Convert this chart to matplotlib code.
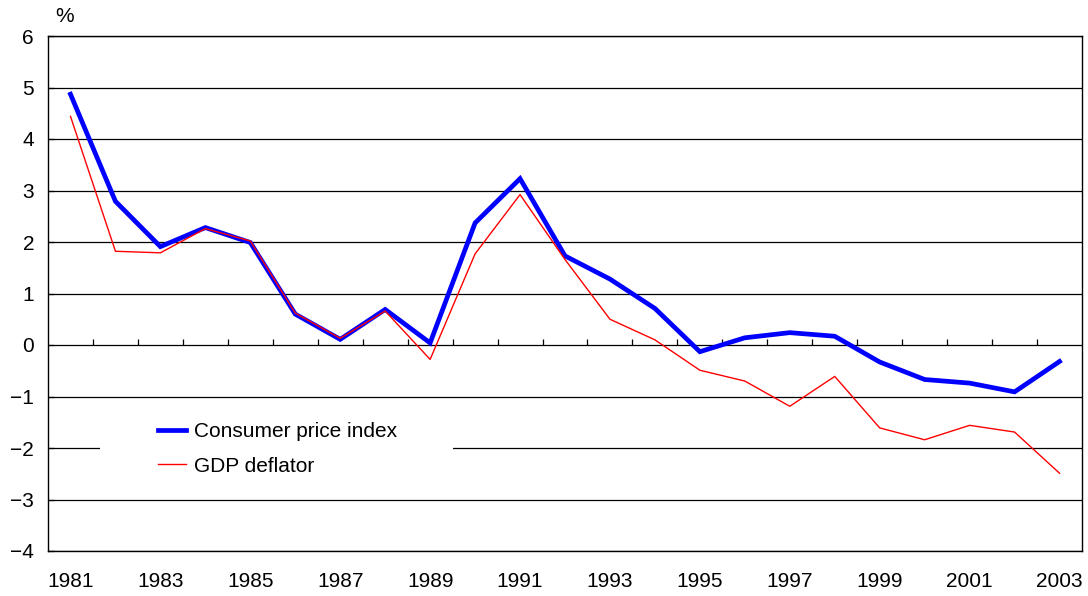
import matplotlib
matplotlib.use("Agg")
import matplotlib.pyplot as plt
from matplotlib.patches import Rectangle
import numpy as np

plt.rcParams["font.family"] = ["Liberation Sans", "DejaVu Sans"]

years = list(range(1981, 2004))
cpi = [4.87, 2.79, 1.91, 2.28, 1.99, 0.60, 0.11, 0.69, 0.04, 2.37, 3.23,
       1.73, 1.28, 0.71, -0.13, 0.14, 0.24, 0.17, -0.33, -0.67, -0.74, -0.91, -0.32]
gdp_deflator = [4.44, 1.82, 1.79, 2.26, 2.02, 0.62, 0.13, 0.66, -0.28, 1.77, 2.92,
                1.66, 0.50, 0.10, -0.49, -0.70, -1.19, -0.61, -1.61, -1.84, -1.56, -1.69, -2.49]
yticks = [6, 5, 4, 3, 2, 1, 0, -1, -2, -3, -4]

FS = 15
W, H = 1088, 596
fig = plt.figure(figsize=(W / 100, H / 100), dpi=100)
ax = fig.add_axes([48 / W, 1 - 551 / H, (1082 - 48) / W, (551 - 36) / H])

x = np.arange(len(years))

# horizontal gridlines
for v in yticks:
    ax.axhline(v, color="black", linewidth=0.9, zorder=1)

# small category boundary ticks sitting on the zero line
ax.vlines(np.arange(0.5, len(years) - 1), 0, 0.12, color="black", linewidth=0.9, zorder=1)

ax.plot(x, cpi, color="#0000ff", linewidth=3.4, solid_joinstyle="miter", zorder=4,
        label="Consumer price index")
ax.plot(x, gdp_deflator, color="#ff0000", linewidth=1.0, zorder=5, label="GDP deflator")

ax.set_xlim(-0.5, len(years) - 0.5)
ax.set_ylim(-4, 6)
ax.set_yticks(yticks)
ax.set_yticklabels([f"{v}".replace("-", "\u2212") for v in yticks], fontsize=FS)
ax.set_xticks(x[::2])
ax.set_xticklabels([str(y) for y in years[::2]], fontsize=FS)
ax.tick_params(axis="x", length=0, pad=15)
ax.tick_params(axis="y", direction="in", length=4, width=0.9, pad=10)
for s in ax.spines.values():
    s.set_linewidth(1.0)

# white patch behind legend interrupts the -2 gridline
ax.add_patch(Rectangle((52 / 1034, 75 / 515), (453 - 100) / 1034, 70 / 515,
                       transform=ax.transAxes, facecolor="white", edgecolor="none", zorder=2))
leg = ax.legend(loc="upper left", bbox_to_anchor=(110 / 1034, 129 / 515), frameon=False,
                fontsize=FS, handlelength=1.35, handletextpad=0.4, labelspacing=0.75,
                borderaxespad=0, borderpad=0)
leg.set_zorder(6)

fig.text(55 / W, 1 - 17 / H, "%", fontsize=FS, ha="left", va="center")

fig.savefig("out.png", dpi=100)
